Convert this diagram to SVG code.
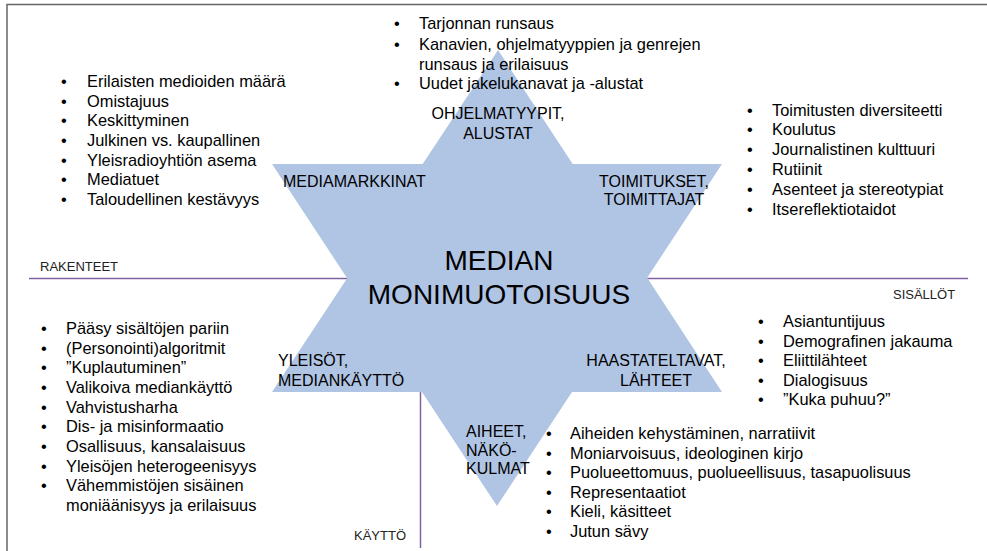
<svg xmlns="http://www.w3.org/2000/svg" width="987" height="551" viewBox="0 0 987 551">
<style>
text { font-family: "Liberation Sans", Arial, sans-serif; fill: #000; }
.li { font-size: 16.4px; }
.lb { font-size: 16px; }
.c { text-anchor: middle; }
.ax { font-size: 13px; fill: #222; }
.big { font-size: 28px; text-anchor: middle; }
.axis { stroke: #8064A2; stroke-width: 1.5; fill: none; }
.frame { stroke: #666; stroke-width: 1.5; fill: none; }
</style>
<rect width="987" height="551" fill="#fff"/>
<g id="frame">
<path class="frame" d="M7,551 V4.5 H987"/>
</g>
<g id="connectors">
<line class="axis" x1="29" y1="278.5" x2="968" y2="278.5"/>
<line class="axis" x1="420.5" y1="278" x2="420.5" y2="548"/>
</g>
<g id="star">
<polygon points="498,50 722,392 272,392" fill="#B0C4E4"/>
<polygon points="272,164 722,164 497,506" fill="#B0C4E4"/>
</g>
<g id="center">
<text class="big" x="499" y="270">MEDIAN</text>
<text class="big" x="499" y="304">MONIMUOTOISUUS</text>
</g>
<g id="axis-labels">
<text class="ax" x="40" y="271">RAKENTEET</text>
<text class="ax" x="893" y="299">SISÄLLÖT</text>
<text class="ax" x="354" y="540">KÄYTTÖ</text>
</g>
<g id="ohjelmatyypit">
<text class="lb c" x="498" y="119">OHJELMATYYPIT,</text>
<text class="lb c" x="498" y="139">ALUSTAT</text>
<text class="li" x="394" y="29">•</text><text class="li" x="419" y="29">Tarjonnan runsaus</text>
<text class="li" x="394" y="50">•</text><text class="li" x="419" y="50">Kanavien, ohjelmatyyppien ja genrejen</text>
<text class="li" x="419" y="69.5">runsaus ja erilaisuus</text>
<text class="li" x="394" y="89">•</text><text class="li" x="419" y="89">Uudet jakelukanavat ja -alustat</text>
</g>
<g id="mediamarkkinat">
<text class="lb" x="283" y="187">MEDIAMARKKINAT</text>
<text class="li" x="61" y="87">•</text><text class="li" x="87" y="87">Erilaisten medioiden määrä</text>
<text class="li" x="61" y="106.7">•</text><text class="li" x="87" y="106.7">Omistajuus</text>
<text class="li" x="61" y="126.3">•</text><text class="li" x="87" y="126.3">Keskittyminen</text>
<text class="li" x="61" y="146">•</text><text class="li" x="87" y="146">Julkinen vs. kaupallinen</text>
<text class="li" x="61" y="165.7">•</text><text class="li" x="87" y="165.7">Yleisradioyhtiön asema</text>
<text class="li" x="61" y="185.3">•</text><text class="li" x="87" y="185.3">Mediatuet</text>
<text class="li" x="61" y="205">•</text><text class="li" x="87" y="205">Taloudellinen kestävyys</text>
</g>
<g id="toimitukset">
<text class="lb c" x="654" y="187">TOIMITUKSET,</text>
<text class="lb c" x="654" y="205">TOIMITTAJAT</text>
<text class="li" x="747" y="115.5">•</text><text class="li" x="772" y="115.5">Toimitusten diversiteetti</text>
<text class="li" x="747" y="135.3">•</text><text class="li" x="772" y="135.3">Koulutus</text>
<text class="li" x="747" y="155.1">•</text><text class="li" x="772" y="155.1">Journalistinen kulttuuri</text>
<text class="li" x="747" y="174.9">•</text><text class="li" x="772" y="174.9">Rutiinit</text>
<text class="li" x="747" y="194.7">•</text><text class="li" x="772" y="194.7">Asenteet ja stereotypiat</text>
<text class="li" x="747" y="214.5">•</text><text class="li" x="772" y="214.5">Itsereflektiotaidot</text>
</g>
<g id="yleisot">
<text class="lb" x="278" y="366">YLEISÖT,</text>
<text class="lb" x="278" y="386">MEDIANKÄYTTÖ</text>
<text class="li" x="41" y="334">•</text><text class="li" x="66" y="334">Pääsy sisältöjen pariin</text>
<text class="li" x="41" y="353.7">•</text><text class="li" x="66" y="353.7">(Personointi)algoritmit</text>
<text class="li" x="41" y="373.3">•</text><text class="li" x="66" y="373.3">”Kuplautuminen”</text>
<text class="li" x="41" y="393">•</text><text class="li" x="66" y="393">Valikoiva mediankäyttö</text>
<text class="li" x="41" y="412.7">•</text><text class="li" x="66" y="412.7">Vahvistusharha</text>
<text class="li" x="41" y="432.3">•</text><text class="li" x="66" y="432.3">Dis- ja misinformaatio</text>
<text class="li" x="41" y="452">•</text><text class="li" x="66" y="452">Osallisuus, kansalaisuus</text>
<text class="li" x="41" y="471.7">•</text><text class="li" x="66" y="471.7">Yleisöjen heterogeenisyys</text>
<text class="li" x="41" y="491.3">•</text><text class="li" x="66" y="491.3">Vähemmistöjen sisäinen</text>
<text class="li" x="66" y="511">moniäänisyys ja erilaisuus</text>
</g>
<g id="haastateltavat">
<text class="lb c" x="656" y="366">HAASTATELTAVAT,</text>
<text class="lb c" x="656" y="386">LÄHTEET</text>
<text class="li" x="758" y="327">•</text><text class="li" x="783" y="327">Asiantuntijuus</text>
<text class="li" x="758" y="346.5">•</text><text class="li" x="783" y="346.5">Demografinen jakauma</text>
<text class="li" x="758" y="366">•</text><text class="li" x="783" y="366">Eliittilähteet</text>
<text class="li" x="758" y="385.5">•</text><text class="li" x="783" y="385.5">Dialogisuus</text>
<text class="li" x="758" y="405">•</text><text class="li" x="783" y="405">”Kuka puhuu?”</text>
</g>
<g id="aiheet">
<text class="lb" x="466" y="437">AIHEET,</text>
<text class="lb" x="466" y="455.5">NÄKÖ-</text>
<text class="lb" x="466" y="474">KULMAT</text>
<text class="li" x="546" y="439">•</text><text class="li" x="570" y="439">Aiheiden kehystäminen, narratiivit</text>
<text class="li" x="546" y="458.6">•</text><text class="li" x="570" y="458.6">Moniarvoisuus, ideologinen kirjo</text>
<text class="li" x="546" y="478.2">•</text><text class="li" x="570" y="478.2">Puolueettomuus, puolueellisuus, tasapuolisuus</text>
<text class="li" x="546" y="497.8">•</text><text class="li" x="570" y="497.8">Representaatiot</text>
<text class="li" x="546" y="517.4">•</text><text class="li" x="570" y="517.4">Kieli, käsitteet</text>
<text class="li" x="546" y="537">•</text><text class="li" x="570" y="537">Jutun sävy</text>
</g>
</svg>
